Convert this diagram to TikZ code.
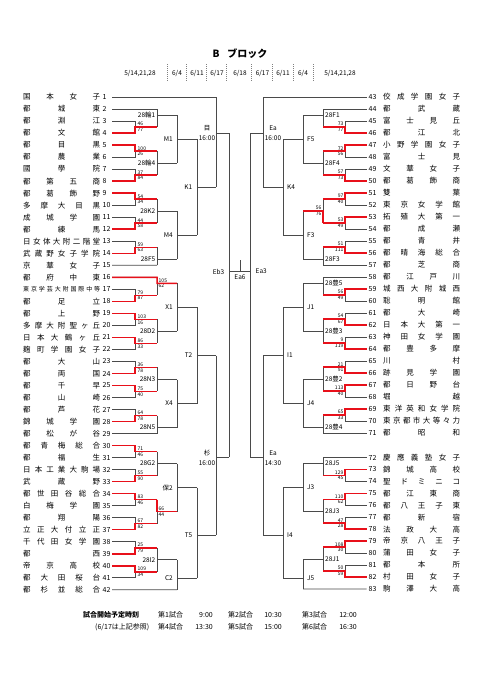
\documentclass[tikz,border=0pt]{standalone}
\usepackage{fontspec}
\setmainfont{Noto Sans CJK JP}
\definecolor{lc}{HTML}{4A4A4A}
\definecolor{rc}{HTML}{E8101A}
\definecolor{sepc}{HTML}{808080}
\pgfdeclarelayer{fg}
\pgfsetlayers{main,fg}
\tikzset{
 gl/.style={draw=lc, line width=0.8pt},
 rl/.style={draw=rc, line width=1.5pt},
 nm/.style={anchor=west, inner sep=0pt, font=\fontsize{7.5}{8}\selectfont},
 numl/.style={anchor=west, inner sep=0pt, font=\fontsize{7}{8}\selectfont},
 sc/.style={inner sep=0pt, font=\fontsize{5}{5}\selectfont},
 mlab/.style={inner sep=0pt, font=\fontsize{6.5}{7}\selectfont},
 rlab/.style={inner sep=0pt, font=\fontsize{6.5}{10}\selectfont, align=center},
 hd/.style={inner sep=0pt, font=\fontsize{6.5}{7}\selectfont},
 ft/.style={inner sep=0pt, anchor=west, font=\fontsize{7}{8}\selectfont},
 sep/.style={draw=sepc, line width=0.5pt, dash pattern=on 1pt off 1pt},
}
\newcommand\RYset[2]{\pgfmathsetmacro#1{(#2<72)*(97+(#2-43)*12)+(#2>71)*(457.5+(#2-72)*11.95)}}
\newcommand\spreadname[2]{\makebox[#1][s]{\spaceskip=0pt plus 1fil\relax\ignorespaces#2\unskip}}
\newcommand\LP[5]{%
\pgfmathsetmacro\ya{97+(#1-1)*12.02}%
\pgfmathsetmacro\yb{97+(#2-1)*12.02}%
\pgfmathsetmacro\ym{(\ya+\yb)/2}%
\draw[gl] (t#1) -- (135,\ya) -- (135,\yb) -- (t#2);%
\draw[gl] (135,\ym) -- (157,\ym);%
\begin{pgfonlayer}{fg}%
\ifnum#3=1 \draw[rl] (t#1) -- (135,\ya) -- (135,\ym) -- (157,\ym);%
\else \draw[rl] (t#2) -- (135,\yb) -- (135,\ym) -- (157,\ym);\fi
\end{pgfonlayer}%
\node[sc,anchor=south west] at (137.5,\ym-0.8) {#4};%
\node[sc,anchor=north west] at (137.5,\ym+0.8) {#5};%
}
\newcommand\RP[5]{%
\RYset\ya{#1}\RYset\yb{#2}%
\pgfmathsetmacro\ym{(\ya+\yb)/2}%
\draw[gl] (t#1) -- (345,\ya) -- (345,\yb) -- (t#2);%
\draw[gl] (345,\ym) -- (323,\ym);%
\begin{pgfonlayer}{fg}%
\ifnum#3=1 \draw[rl] (t#1) -- (345,\ya) -- (345,\ym) -- (323,\ym);%
\else \draw[rl] (t#2) -- (345,\yb) -- (345,\ym) -- (323,\ym);\fi
\end{pgfonlayer}%
\node[sc,anchor=south east] at (343.5,\ym-0.8) {#4};%
\node[sc,anchor=north east] at (343.5,\ym+0.8) {#5};%
}
\begin{document}
\begin{tikzpicture}[x=1pt,y=-1pt]
\fill[white] (0,0) rectangle (481,680);
\useasboundingbox (0,0) rectangle (481,680);
% header
\node[inner sep=0pt, font=\bfseries\fontsize{10}{12}\selectfont] (title) at (240,54) {B\hspace{0.8em}ブロック};
\node[hd] (h1) at (140,74) {5/14,21,28};
\node[hd] (h2) at (177,74) {6/4};
\node[hd] (h3) at (197,74) {6/11};
\node[hd] (h4) at (217,74) {6/17};
\node[hd] (h5) at (240,74) {6/18};
\node[hd] (h6) at (262.5,74) {6/17};
\node[hd] (h7) at (283,74) {6/11};
\node[hd] (h8) at (303,74) {6/4};
\node[hd] (h9) at (340,74) {5/14,21,28};
\foreach \x in {167.3,186.7,206.7,226.7,251.7,272.7,293.3,313.3} \draw[sep] (\x,64) -- (\x,82);
% team coordinates
\foreach \i in {1,...,42}{\pgfmathsetmacro\yy{97+(\i-1)*12.02}\coordinate (t\i) at (112,\yy);}
\foreach \i in {43,...,83}{\RYset\yy{\i}\coordinate (t\i) at (366.5,\yy);}
% left names
\foreach \i/\n in {1/国 本 女 子,2/都 城 東,3/都 淵 江,4/都 文 館,5/都 目 黒,6/都 農 業,7/國 學 院,8/都 第 五 商,9/都 葛 飾 野,10/多 摩 大 目 黒,11/成 城 学 園,12/都 練 馬,13/日 女 体 大 附 二 階 堂,14/武 蔵 野 女 子 学 院,15/京 華 女 子,16/都 府 中 東,18/都 足 立,19/都 上 野,20/多 摩 大 附 聖 ヶ 丘,21/日 本 大 鶴 ヶ 丘,22/麹 町 学 園 女 子,23/都 大 山,24/都 両 国,25/都 千 早,26/都 山 崎,27/都 芦 花,28/錦 城 学 園,29/都 松 が 谷,30/都 青 梅 総 合,31/都 福 生,32/日 本 工 業 大 駒 場,33/武 蔵 野,34/都 世 田 谷 総 合,35/白 梅 学 園,36/都 翔 陽,37/立 正 大 付 立 正,38/千 代 田 女 学 園,39/都 西,40/帝 京 高 校,41/都 大 田 桜 台,42/都 杉 並 総 合}{
 \pgfmathsetmacro\yy{97+(\i-1)*12.02}
 \node[nm] (n\i) at (23,\yy) {\spreadname{77pt}{\n}};
}
\node[nm] (n17) at (23,289.32) {\makebox[77pt][s]{\fontsize{6}{6}\selectfont\spaceskip=0pt plus 1fil\relax 東 京 学 芸 大 附 国 際 中 等}};
\foreach \i in {1,...,42}{\pgfmathsetmacro\yy{97+(\i-1)*12.02}\node[numl] (k\i) at (102.5,\yy) {\i};}
% right names
\foreach \i/\n in {43/佼 成 学 園 女 子,44/都 武 蔵,45/富 士 見 丘,46/都 江 北,47/小 野 学 園 女 子,48/富 士 見,49/文 華 女 子,50/都 葛 飾 商,51/雙 葉,52/東 京 女 学 館,53/拓 殖 大 第 一,54/都 成 瀬,55/都 青 井,56/都 晴 海 総 合,57/都 芝 商,58/都 江 戸 川,59/城 西 大 附 城 西,60/聡 明 館,61/都 大 崎,62/日 本 大 第 一,63/神 田 女 学 園,64/都 豊 多 摩,65/川 村,66/跡 見 学 園,67/都 日 野 台,68/堀 越,69/東 洋 英 和 女 学 院,70/東 京 都 市 大 等 々 力,71/都 昭 和,72/慶 應 義 塾 女 子,73/錦 城 高 校,74/聖 ド ミ ニ コ,75/都 江 東 商,76/都 八 王 子 東,77/都 新 宿,78/法 政 大 高,79/帝 京 八 王 子,80/蒲 田 女 子,81/都 本 所,82/村 田 女 子,83/駒 澤 大 高}{
 \RYset\yy{\i}
 \node[nm] (n\i) at (383,\yy) {\spreadname{77pt}{\n}};
 \node[numl] (k\i) at (368.5,\yy) {\i};
}
% ---------- left bracket ----------
\draw[gl] (t1) -- (216,97);
\draw[gl] (t2) -- (157,109.02);
\draw[gl] (t15) -- (157,265.28);
\draw[gl] (t16) -- (157,277.30);
\draw[gl] (t29) -- (157,433.56);
\draw[gl] (t42) -- (177,589.82);
\LP{3}{4}{2}{46}{77}
\LP{5}{6}{1}{100}{26}
\LP{7}{8}{2}{37}{84}
\LP{9}{10}{1}{54}{34}
\LP{11}{12}{2}{44}{58}
\LP{13}{14}{2}{59}{63}
\LP{17}{18}{2}{79}{87}
\LP{19}{20}{1}{103}{16}
\LP{21}{22}{1}{86}{33}
\LP{23}{24}{2}{36}{78}
\LP{25}{26}{1}{75}{40}
\LP{27}{28}{2}{64}{78}
\LP{30}{31}{1}{71}{46}
\LP{32}{33}{2}{55}{90}
\LP{34}{35}{1}{83}{46}
\LP{36}{37}{2}{67}{82}
\LP{38}{39}{2}{25}{79}
\LP{40}{41}{1}{109}{34}
% B level
\draw[gl] (157,109.02) -- (157,127.05) (157,115) -- (177,115);
\draw[gl] (157,151.09) -- (157,175.13) (157,163.1) -- (177,163.1);
\draw[gl] (157,199.17) -- (157,223.21) (157,211.2) -- (177,211.2);
\draw[gl] (157,247.25) -- (157,265.28) (157,259.3) -- (177,259.3);
\draw[gl] (157,277.3) -- (157,295.33) (157,283.3) -- (177,283.3);
\draw[gl] (157,319.37) -- (157,343.41) (157,331.4) -- (177,331.4);
\draw[gl] (157,367.45) -- (157,391.49) (157,379.5) -- (177,379.5);
\draw[gl] (157,415.53) -- (157,433.56) (157,427.5) -- (177,427.5);
\draw[gl] (157,451.59) -- (157,475.63) (157,463.6) -- (177,463.6);
\draw[gl] (157,499.67) -- (157,523.71) (157,511.7) -- (177,511.7);
\draw[gl] (157,547.75) -- (157,571.79) (157,559.8) -- (177,559.8);
\begin{pgfonlayer}{fg}
\draw[rl] (t16) -- (157,277.3) -- (157,283.3) -- (177,283.3);
\draw[rl] (157,499.67) -- (157,511.7) -- (177,511.7);
\end{pgfonlayer}
\node[sc,anchor=south west] at (158.5,282.5) {105};
\node[sc,anchor=north west] at (158.5,284.1) {62};
\node[sc,anchor=south west] at (158.5,510.9) {66};
\node[sc,anchor=north west] at (158.5,512.5) {44};
% C level
\draw[gl] (177,115) -- (177,163.1) (177,139) -- (197,139);
\draw[gl] (177,211.2) -- (177,259.3) (177,235.2) -- (197,235.2);
\draw[gl] (177,283.3) -- (177,331.4) (177,307.4) -- (197,307.4);
\draw[gl] (177,379.5) -- (177,427.5) (177,403.5) -- (197,403.5);
\draw[gl] (177,463.6) -- (177,511.7) (177,487.7) -- (197,487.7);
\draw[gl] (177,559.8) -- (177,589.82) (177,578) -- (197,578);
% D level
\draw[gl] (197,139) -- (197,235.2) (197,187.1) -- (216,187.1);
\draw[gl] (197,307.4) -- (197,403.5) (197,355.5) -- (216,355.5);
\draw[gl] (197,487.7) -- (197,578) (197,535) -- (216,535);
% E level
\draw[gl] (216,97) -- (216,187.1) (216,133) -- (229,133);
\draw[gl] (216,355.5) -- (216,535) (216,457) -- (229,457);
% final
\draw[gl] (229,133) -- (229,457) (229,271) -- (250,271) (240,260) -- (240,271);
% ---------- right bracket ----------
\draw[gl] (t43) -- (263,97);
\draw[gl] (t44) -- (323,109);
\draw[gl] (t57) -- (323,265);
\draw[gl] (t58) -- (323,277);
\draw[gl] (t71) -- (323,433);
\draw[gl] (t72) -- (323,457.5);
\draw[gl] (t83) -- (303,588.95);
\RP{45}{46}{2}{73}{77}
\RP{47}{48}{1}{72}{56}
\RP{49}{50}{2}{57}{73}
\RP{51}{52}{1}{97}{40}
\RP{53}{54}{1}{53}{49}
\RP{55}{56}{2}{51}{111}
\RP{59}{60}{1}{56}{49}
\RP{61}{62}{2}{54}{67}
\RP{63}{64}{2}{9}{119}
\RP{65}{66}{2}{21}{91}
\RP{67}{68}{1}{113}{40}
\RP{69}{70}{1}{65}{33}
\RP{73}{74}{1}{129}{45}
\RP{75}{76}{1}{110}{62}
\RP{77}{78}{2}{47}{28}
\RP{79}{80}{1}{108}{30}
\RP{81}{82}{2}{50}{59}
% B' level
\draw[gl] (323,109) -- (323,127) (323,115) -- (303,115);
\draw[gl] (323,151) -- (323,175) (323,163) -- (303,163);
\draw[gl] (323,199) -- (323,223) (323,211) -- (303,211);
\draw[gl] (323,247) -- (323,265) (323,259) -- (303,259);
\draw[gl] (323,277) -- (323,295) (323,283) -- (303,283);
\draw[gl] (323,319) -- (323,343) (323,331) -- (303,331);
\draw[gl] (323,367) -- (323,391) (323,379) -- (303,379);
\draw[gl] (323,415) -- (323,433) (323,427) -- (303,427);
\draw[gl] (323,457.5) -- (323,475.4) (323,463.5) -- (303,463.5);
\draw[gl] (323,499.3) -- (323,523.2) (323,511.3) -- (303,511.3);
\draw[gl] (323,547.1) -- (323,571) (323,559) -- (303,559);
\begin{pgfonlayer}{fg}
\draw[rl] (323,223) -- (323,211) -- (303,211);
\end{pgfonlayer}
\node[sc,anchor=south east] at (321.5,210.2) {56};
\node[sc,anchor=north east] at (321.5,211.8) {76};
% C' level
\draw[gl] (303,115) -- (303,163) (303,139) -- (283,139);
\draw[gl] (303,211) -- (303,259) (303,235) -- (283,235);
\draw[gl] (303,283) -- (303,331) (303,307) -- (283,307);
\draw[gl] (303,379) -- (303,427) (303,403) -- (283,403);
\draw[gl] (303,463.5) -- (303,511.3) (303,487.4) -- (283,487.4);
\draw[gl] (303,559) -- (303,588.95) (303,578) -- (283,578);
% D' level
\draw[gl] (283,139) -- (283,235) (283,187) -- (263,187);
\draw[gl] (283,307) -- (283,403) (283,355) -- (263,355);
\draw[gl] (283,487.4) -- (283,578) (283,535) -- (263,535);
% E' level
\draw[gl] (263,97) -- (263,187) (263,133) -- (250,133);
\draw[gl] (263,355) -- (263,535) (263,457) -- (250,457);
\draw[gl] (250,133) -- (250,457);
% ---------- labels ----------
\foreach \t/\y in {28輪1/115,28輪4/163.1,28K2/211.2,28F5/259.3,28D2/331.4,28N3/379.5,28N5/427.5,28G2/463.6,28I2/559.8}
 \node[mlab,anchor=east] at (155.5,\y) {\t};
\foreach \t/\y in {M1/139,M4/235.2,X1/307.4,X4/403.5,保2/487.7,C2/578}
 \node[mlab,anchor=east] at (173,\y) {\t};
\foreach \t/\y in {K1/187.1,T2/355.5,T5/535}
 \node[mlab,anchor=east] at (192.5,\y) {\t};
\node[rlab] (lE1) at (207,133) {目\\16:00};
\node[rlab] (lE2) at (207,458) {杉\\16:00};
\foreach \t/\y in {28F1/115,28F4/163,28F3/259,28豊5/283,28豊3/331,28豊2/379,28豊4/427,28J5/463.5,28J3/511.3,28J1/559}
 \node[mlab,anchor=west] at (325,\y) {\t};
\foreach \t/\y in {F5/139,F3/235,J1/307,J4/403,J3/487.4,J5/578}
 \node[mlab,anchor=west] at (307,\y) {\t};
\foreach \t/\y in {K4/187,I1/355,I4/535}
 \node[mlab,anchor=west] at (287,\y) {\t};
\node[rlab] (rE1) at (273,133) {Ea\\16:00};
\node[rlab] (rE2) at (273,458) {Ea\\14:30};
\node[mlab,anchor=east] (eb3) at (224.5,271.5) {Eb3};
\node[mlab,anchor=west] (ea3) at (255.5,271.5) {Ea3};
\node[mlab,anchor=north] (ea6) at (240,274.5) {Ea6};
% ---------- footer ----------
\node[ft,font=\bfseries\fontsize{7}{8}\selectfont] (f0) at (83,615) {試合開始予定時刻};
\node[ft] (f1) at (158,615) {第1試合};
\node[ft,anchor=east] (f2) at (213,615) {9:00};
\node[ft] (f3) at (228,615) {第2試合};
\node[ft,anchor=east] (f4) at (282,615) {10:30};
\node[ft] (f5) at (302,615) {第3試合};
\node[ft,anchor=east] (f6) at (357,615) {12:00};
\node[ft] (g0) at (95,627) {(6/17は上記参照)};
\node[ft] (g1) at (158,627) {第4試合};
\node[ft,anchor=east] (g2) at (213,627) {13:30};
\node[ft] (g3) at (228,627) {第5試合};
\node[ft,anchor=east] (g4) at (282,627) {15:00};
\node[ft] (g5) at (302,627) {第6試合};
\node[ft,anchor=east] (g6) at (357,627) {16:30};
\end{tikzpicture}
\end{document}
